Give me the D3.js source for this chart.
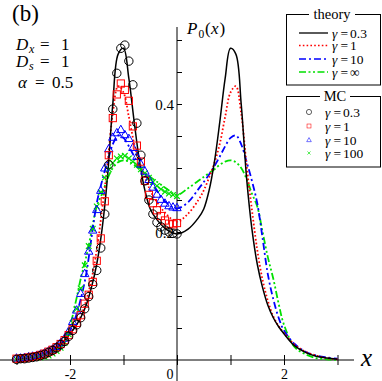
<!DOCTYPE html>
<html>
<head>
<meta charset="utf-8">
<script src="https://cdn.jsdelivr.net/npm/d3@7"></script>
<style>
  body { margin: 0; background: #fff; }
  svg text { font-family: "Liberation Serif", "Times New Roman", serif; fill: #000; }
</style>
</head>
<body>
<script>
// theory curves
var thX = [-3.0,-2.8,-2.6,-2.4,-2.2,-2.0,-1.9,-1.8,-1.7,-1.6,-1.5,-1.4,-1.3,-1.2,-1.1,-1.0,-0.9,-0.8,-0.7,-0.6,-0.5,-0.4,-0.2,
  0,
  0.2,0.4,0.5,0.6,0.7,0.8,0.9,1.0,1.1,1.2,1.3,1.4,1.5,1.6,1.7,1.8,1.9,2.0,2.2,2.4,2.6,2.8,3.0];
var thG03 = [0.001,0.003,0.006,0.012,0.022,0.041,0.052,0.066,0.085,0.113,0.15,0.205,0.285,0.40,0.478,0.487,0.44,0.372,0.31,0.265,0.236,0.222,0.204,
  0.197,
  0.204,0.222,0.236,0.265,0.31,0.372,0.44,0.487,0.478,0.40,0.285,0.205,0.15,0.113,0.085,0.066,0.052,0.041,0.022,0.012,0.006,0.003,0.001];
var thG1 = [0.001,0.003,0.007,0.013,0.024,0.042,0.053,0.068,0.092,0.125,0.172,0.235,0.305,0.385,0.428,0.418,0.38,0.338,0.308,0.285,0.265,0.25,0.228,
  0.216,
  0.228,0.25,0.265,0.285,0.308,0.338,0.38,0.418,0.428,0.385,0.305,0.235,0.172,0.125,0.092,0.068,0.053,0.042,0.024,0.013,0.007,0.003,0.001];
var thG10 = [0.002,0.004,0.007,0.013,0.025,0.046,0.066,0.095,0.133,0.19,0.245,0.28,0.31,0.337,0.351,0.347,0.334,0.318,0.303,0.29,0.278,0.267,0.246,
  0.237,
  0.246,0.267,0.278,0.29,0.303,0.318,0.334,0.347,0.351,0.337,0.31,0.28,0.245,0.19,0.133,0.095,0.066,0.046,0.025,0.013,0.007,0.004,0.002];
var thGinf = [0.0,0.001,0.003,0.009,0.02,0.055,0.088,0.127,0.16,0.2,0.24,0.26,0.283,0.3,0.309,0.312,0.31,0.305,0.298,0.292,0.286,0.28,0.268,
  0.258,
  0.268,0.28,0.286,0.292,0.298,0.305,0.31,0.312,0.309,0.3,0.283,0.26,0.24,0.2,0.16,0.127,0.088,0.055,0.02,0.009,0.003,0.001,0.0];

// Monte Carlo histograms (left half only)
var mcX = [-3.000,-2.925,-2.850,-2.775,-2.700,-2.625,-2.550,-2.475,-2.400,-2.325,-2.250,-2.175,-2.100,-2.025,
  -1.950,-1.875,-1.800,-1.725,-1.650,-1.575,-1.500,-1.425,-1.350,-1.275,-1.200,-1.125,-1.050,-0.975,
  -0.900,-0.825,-0.750,-0.675,-0.600,-0.525,-0.450,-0.375,-0.300,-0.225,-0.150,-0.075,0.000];
var mcG03 = [0.001,0.002,0.002,0.003,0.004,0.005,0.007,0.009,0.012,0.015,0.019,0.024,0.029,0.037,
  0.046,0.055,0.066,0.080,0.099,0.118,0.140,0.175,0.228,0.305,0.392,0.448,0.487,0.492,
  0.467,0.43,0.37,0.32,0.28,0.25,0.228,0.215,0.208,0.203,0.2,0.198,0.197];
var mcG1 = [0.002,0.002,0.003,0.004,0.005,0.006,0.008,0.010,0.013,0.016,0.020,0.025,0.031,0.039,
  0.048,0.058,0.070,0.088,0.102,0.122,0.155,0.19,0.248,0.32,0.378,0.415,0.432,0.422,
  0.405,0.365,0.335,0.31,0.28,0.258,0.245,0.234,0.225,0.218,0.213,0.212,0.214];
var mcG10 = [0.003,0.003,0.004,0.005,0.006,0.007,0.009,0.011,0.014,0.017,0.021,0.027,0.034,0.045,
  0.06,0.078,0.104,0.135,0.17,0.203,0.235,0.265,0.3,0.33,0.348,0.355,0.36,0.352,
  0.346,0.332,0.318,0.306,0.295,0.282,0.27,0.259,0.251,0.245,0.241,0.239,0.238];
var mcG100 = [0.001,0.001,0.002,0.002,0.003,0.003,0.004,0.005,0.007,0.010,0.014,0.019,0.027,0.04,
  0.058,0.08,0.112,0.148,0.178,0.205,0.24,0.262,0.285,0.298,0.308,0.315,0.318,0.319,
  0.315,0.31,0.305,0.298,0.292,0.285,0.278,0.272,0.267,0.263,0.26,0.258,0.256];

var xTicks = [-3, -2, -1, 0, 1, 2, 3];
var yTicks = [0.05, 0.1, 0.15, 0.2, 0.25, 0.3, 0.35, 0.4, 0.45, 0.5];
var yLabels = [0.2, 0.4];

var width = 382, height = 381;

var svg = d3.select("body").append("svg")
    .attr("width", width)
    .attr("height", height);

var x = d3.scaleLinear().domain([-3, 3]).range([16.5, 337.5]);
var y = d3.scaleLinear().domain([0, 0.5]).range([360, 40]);

var theory = [
  { name: "0.3", vals: thG03, color: "#000", dash: null },
  { name: "1", vals: thG1, color: "#ff0000", dash: "1.6,2.2" },
  { name: "10", vals: thG10, color: "#0000ff", dash: "7,3,2,3" },
  { name: "\u221e", vals: thGinf, color: "#00e000", dash: "7,2.5,2,2.5,2,2.5" }
];
var mc = [
  { name: "0.3", vals: mcG03, color: "#000", shape: "circle" },
  { name: "1", vals: mcG1, color: "#ff0000", shape: "square" },
  { name: "10", vals: mcG10, color: "#0000ff", shape: "triangle" },
  { name: "100", vals: mcG100, color: "#00e000", shape: "cross" }
];

// axes
var xAxis = d3.axisBottom(x)
    .tickValues(xTicks)
    .tickSize(5)
    .tickFormat(function (d) { return (d == -2 || d == 2) ? String(d) : ""; });

var gx = svg.append("g")
    .attr("transform", "translate(0," + y(0) + ")")
    .call(xAxis);
gx.select(".domain").remove();
gx.selectAll(".tick line").attr("y1", -5).attr("stroke", "#000");
gx.selectAll(".tick text")
    .attr("font-size", 14)
    .attr("font-family", "Liberation Serif")
    .attr("y", 9);
gx.append("line")
    .attr("x1", 0).attr("x2", 354)
    .attr("stroke", "#000");
gx.append("text")
    .attr("x", x(0) - 7).attr("y", 19)
    .attr("font-size", 14)
    .attr("text-anchor", "middle")
    .text("0");

var yAxis = d3.axisLeft(y)
    .tickValues(yTicks)
    .tickSize(4)
    .tickFormat(function (d) { return yLabels.indexOf(d) >= 0 ? d3.format(".1f")(d) : ""; });

var gy = svg.append("g")
    .attr("transform", "translate(" + x(0) + ",0)")
    .call(yAxis);
gy.select(".domain").remove();
gy.selectAll(".tick line").attr("x2", 5).attr("stroke", "#000");
gy.selectAll(".tick text")
    .attr("font-size", 15)
    .attr("font-family", "Liberation Serif")
    .attr("x", -3)
    .attr("dy", "0.35em");
gy.append("line")
    .attr("y1", 27).attr("y2", height)
    .attr("stroke", "#000");

// theory lines
var line = d3.line()
    .x(function (d) { return x(d[0]); })
    .y(function (d) { return y(d[1]); })
    .curve(d3.curveCatmullRom.alpha(0.5));

theory.slice().reverse().forEach(function (s) {
  svg.append("path")
      .datum(thX.map(function (v, i) { return [v, s.vals[i]]; }))
      .attr("d", line)
      .attr("fill", "none")
      .attr("stroke", s.color)
      .attr("stroke-width", s.dash ? 1.8 : 1.5)
      .attr("stroke-dasharray", s.dash);
});

// markers
function drawMarker(g, shape, color, cx, cy) {
  if (shape == "circle") {
    g.append("circle").attr("cx", cx).attr("cy", cy).attr("r", 4.2)
        .attr("fill", "none").attr("stroke", color).attr("stroke-width", 1);
  } else if (shape == "square") {
    g.append("rect").attr("x", cx - 3.6).attr("y", cy - 3.6)
        .attr("width", 7.2).attr("height", 7.2)
        .attr("fill", "none").attr("stroke", color).attr("stroke-width", 1);
  } else if (shape == "triangle") {
    g.append("path")
        .attr("d", "M" + cx + "," + (cy - 4.4) + "L" + (cx + 4.2) + "," + (cy + 3) + "L" + (cx - 4.2) + "," + (cy + 3) + "Z")
        .attr("fill", "none").attr("stroke", color).attr("stroke-width", 1);
  } else {
    g.append("path")
        .attr("d", "M" + (cx - 2.8) + "," + (cy - 2.8) + "L" + (cx + 2.8) + "," + (cy + 2.8) +
                   "M" + (cx - 2.8) + "," + (cy + 2.8) + "L" + (cx + 2.8) + "," + (cy - 2.8))
        .attr("stroke", color).attr("stroke-width", 1.2);
  }
}

mc.slice().reverse().forEach(function (s) {
  var g = svg.append("g");
  mcX.forEach(function (v, i) {
    drawMarker(g, s.shape, s.color, x(v), y(s.vals[i]));
  });
});

// one text element per label, pieces placed with tspans
// parts: [string, x, dy, size, italic]
function label(tx, ty, size, parts) {
  var t = svg.append("text").attr("x", tx).attr("y", ty).attr("font-size", size);
  parts.forEach(function (p) {
    var s = t.append("tspan").text(p[0]);
    if (p[1] != null) s.attr("x", p[1]);
    if (p[2]) s.attr("dy", p[2]);
    if (p[3]) s.attr("font-size", p[3]);
    if (p[4]) s.attr("font-style", "italic");
  });
  return t;
}

// axis names
label(361, 366, 25, [["x", null, 0, null, true]]);
label(187, 34, 17, [
  ["P", null, 0, null, true],
  ["0", 198.5, 4, 11.5, false],
  ["(", 205, -4, null, false],
  ["x", 211, 0, null, true],
  [")", 219.5, 0, null, false]
]);

// panel label and parameters
label(12, 21, 23, [["(b)", null, 0, null, false]]);
label(16, 50, 17, [["D", null, 0, null, true], ["x", 29, 3, 12, true], ["=", 40, -3, null, false], ["1", 61, 0, null, false]]);
label(16, 67, 17, [["D", null, 0, null, true], ["s", 29, 3, 12, true], ["=", 40, -3, null, false], ["1", 61, 0, null, false]]);
label(18, 88, 17, [["\u03b1", null, 0, null, true], ["=", 35, 0, null, false], ["0.5", 52, 0, null, false]]);

// legends
function gammaText(tx, ty, val) {
  label(tx, ty, 13.5, [["\u03b3", null, 0, null, true], ["=", tx + 8.5, 0, null, false], [val, tx + 18, 0, null, false]]);
}

var leg1 = svg.append("g");
leg1.append("rect")
    .attr("x", 286.5).attr("y", 14.5).attr("width", 94).attr("height", 70.5)
    .attr("fill", "#fff").attr("stroke", "#000");
leg1.append("rect")
    .attr("x", 309).attr("y", 8).attr("width", 46).attr("height", 12)
    .attr("fill", "#fff");
label(332, 18.5, 14.5, [["theory", null, 0, null, false]]).attr("text-anchor", "middle");

var legY1 = [33, 45.5, 59, 72];
theory.forEach(function (s, i) {
  leg1.append("line")
      .attr("x1", 299).attr("x2", 328)
      .attr("y1", legY1[i]).attr("y2", legY1[i])
      .attr("stroke", s.color)
      .attr("stroke-width", s.dash ? 1.6 : 1.3)
      .attr("stroke-dasharray", s.dash);
  gammaText(332, legY1[i] + 4.5, s.name);
});

var leg2 = svg.append("g");
leg2.append("rect")
    .attr("x", 286.5).attr("y", 96.5).attr("width", 94).attr("height", 70.5)
    .attr("fill", "#fff").attr("stroke", "#000");
leg2.append("rect")
    .attr("x", 320).attr("y", 90).attr("width", 30).attr("height", 12)
    .attr("fill", "#fff");
label(335, 100.5, 14.5, [["MC", null, 0, null, false]]).attr("text-anchor", "middle");

var legY2 = [112, 126, 140, 153];
mc.forEach(function (s, i) {
  var sz = s.shape == "circle" ? 0.62 : 0.55;
  var g = leg2.append("g")
      .attr("transform", "translate(309," + legY2[i] + ") scale(" + sz + ")");
  drawMarker(g, s.shape, s.color, 0, 0);
  gammaText(325, legY2[i] + 4.5, s.name);
});
</script>
</body>
</html>
